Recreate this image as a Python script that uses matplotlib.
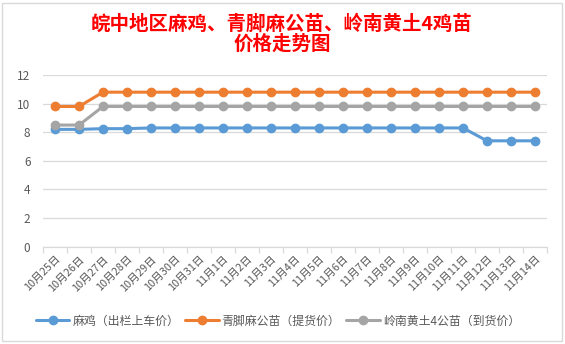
import matplotlib
matplotlib.use("Agg")
import matplotlib.pyplot as plt
from matplotlib.patches import Rectangle

plt.rcParams['font.family'] = ['Noto Sans CJK SC', 'DejaVu Sans']

# -----------------------------
# DATA
# -----------------------------
dates = ["10月25日", "10月26日", "10月27日", "10月28日", "10月29日", "10月30日",
         "10月31日", "11月1日", "11月2日", "11月3日", "11月4日", "11月5日",
         "11月6日", "11月7日", "11月8日", "11月9日", "11月10日", "11月11日",
         "11月12日", "11月13日", "11月14日"]

ma_ji = [8.2, 8.2, 8.25, 8.25, 8.3, 8.3, 8.3, 8.3, 8.3, 8.3, 8.3, 8.3,
         8.3, 8.3, 8.3, 8.3, 8.3, 8.3, 7.4, 7.4, 7.4]
qing_jiao = [9.8, 9.8, 10.8, 10.8, 10.8, 10.8, 10.8, 10.8, 10.8, 10.8, 10.8,
             10.8, 10.8, 10.8, 10.8, 10.8, 10.8, 10.8, 10.8, 10.8, 10.8]
ling_nan = [8.5, 8.5, 9.8, 9.8, 9.8, 9.8, 9.8, 9.8, 9.8, 9.8, 9.8, 9.8,
            9.8, 9.8, 9.8, 9.8, 9.8, 9.8, 9.8, 9.8, 9.8]

series = [
    ("麻鸡（出栏上车价）", ma_ji, "#5B9BD5"),
    ("青脚麻公苗（提货价）", qing_jiao, "#ED7D31"),
    ("岭南黄土4公苗（到货价）", ling_nan, "#A5A5A5"),
]

title = "皖中地区麻鸡、青脚麻公苗、岭南黄土4鸡苗\n价格走势图"

# -----------------------------
# PLOT
# -----------------------------
W, H = 565, 344
fig = plt.figure(figsize=(W / 100, H / 100), dpi=100)

# chart border
fig.patches.append(Rectangle((2 / W, 3 / H), 560 / W, 338 / H, transform=fig.transFigure,
                             fill=False, edgecolor="#D9D9D9", lw=1))

ax = fig.add_axes([43 / W, 1 - 246.7 / H, 504 / W, 171.7 / H])

x = list(range(len(dates)))
for name, vals, col in series:
    ax.plot(x, vals, color=col, lw=2.2, marker="o", markersize=6, label=name,
            solid_capstyle="round")

ax.set_xlim(-0.5, len(dates) - 0.5)
ax.set_ylim(0, 12)
ax.set_yticks(range(0, 13, 2))
ax.grid(axis="y", color="#D9D9D9", lw=0.9)
ax.set_axisbelow(True)

for s in ["top", "right", "left"]:
    ax.spines[s].set_visible(False)
ax.spines["bottom"].set_color("#D9D9D9")
ax.spines["bottom"].set_linewidth(0.9)

ax.set_xticks(x)
ax.set_xticklabels(dates, rotation=45, ha="right", va="top", rotation_mode="anchor",
                   fontsize=7.8, color="#595959")
ax.tick_params(axis="x", length=0, pad=5)
ax.set_xticks([i - 0.5 for i in range(len(dates) + 1)], minor=True)
ax.tick_params(axis="x", which="minor", length=4, color="#D9D9D9", width=0.9)
ax.tick_params(axis="y", length=0, labelsize=8.5, labelcolor="#595959", pad=9)

fig.text(282 / W, 1 - 34 / H, title, ha="center", va="center", color="red",
         fontsize=14, fontweight="bold", linespacing=1.1)

fig.legend(loc="center", bbox_to_anchor=(278 / W, 1 - 321 / H), ncol=3, frameon=False,
           fontsize=8.6, handlelength=2.8, columnspacing=0.5, handletextpad=0.25,
           labelcolor="#595959")

fig.savefig("out.png", dpi=100)
